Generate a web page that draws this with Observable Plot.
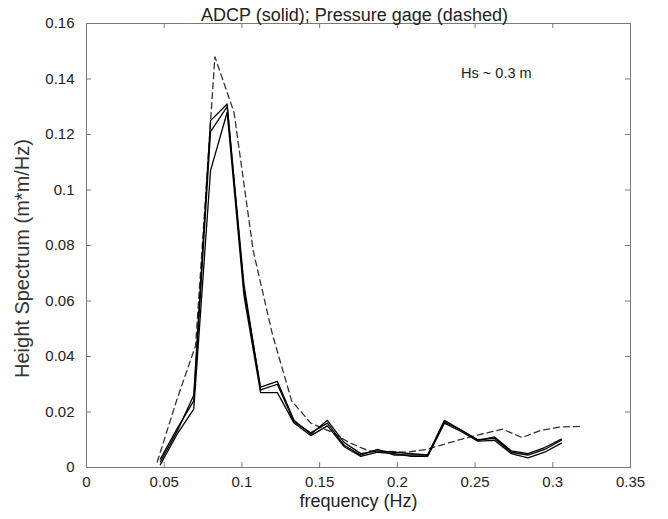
<!DOCTYPE html>
<html><head><meta charset="utf-8">
<script src="https://cdn.jsdelivr.net/npm/d3@7"></script>
<script src="https://cdn.jsdelivr.net/npm/@observablehq/plot@0.6"></script>
<style>body{margin:0;background:#fff}svg{display:block}</style>
</head><body><div id="chart"></div>
<script>
const title = "ADCP (solid); Pressure gage (dashed)";
const xLabel = "frequency (Hz)";
const yLabel = "Height Spectrum (m*m/Hz)";
const note = "Hs ~ 0.3 m";
const xTicks = [0, 0.05, 0.1, 0.15, 0.2, 0.25, 0.3, 0.35];
const yTicks = [0, 0.02, 0.04, 0.06, 0.08, 0.1, 0.12, 0.14, 0.16];

const adcpFreq = [0.0475, 0.0583, 0.069, 0.0798, 0.0905, 0.1013, 0.112, 0.1228, 0.1335, 0.1443, 0.155, 0.1658, 0.1765, 0.1873, 0.198, 0.2088, 0.2195, 0.2303, 0.241, 0.2518, 0.2625, 0.2733, 0.284, 0.2948, 0.3055];
const adcpA = [0.002, 0.013, 0.026, 0.125, 0.131, 0.064, 0.029, 0.031, 0.017, 0.012, 0.017, 0.009, 0.005, 0.006, 0.0055, 0.005, 0.0045, 0.017, 0.0135, 0.010, 0.0105, 0.0055, 0.0045, 0.0065, 0.0098];
const adcpB = [0.001, 0.012, 0.021, 0.107, 0.128, 0.062, 0.027, 0.027, 0.016, 0.0115, 0.015, 0.0075, 0.004, 0.0055, 0.005, 0.004, 0.004, 0.016, 0.013, 0.0095, 0.0098, 0.005, 0.0035, 0.0055, 0.0088];
const adcpC = [0.003, 0.014, 0.024, 0.121, 0.130, 0.066, 0.028, 0.030, 0.0165, 0.0125, 0.016, 0.008, 0.0045, 0.0065, 0.0045, 0.0045, 0.0045, 0.0165, 0.0135, 0.0098, 0.011, 0.006, 0.005, 0.0072, 0.0102];

const gageFreq = [0.0455, 0.0579, 0.0702, 0.0826, 0.0949, 0.1073, 0.1196, 0.132, 0.1443, 0.1567, 0.169, 0.1814, 0.1937, 0.2061, 0.2184, 0.2308, 0.2431, 0.2555, 0.2678, 0.2802, 0.2925, 0.3049, 0.3172];
const gageVals = [0.002, 0.024, 0.044, 0.148, 0.128, 0.078, 0.048, 0.024, 0.016, 0.013, 0.009, 0.006, 0.0058, 0.0055, 0.0065, 0.0085, 0.0105, 0.0122, 0.0138, 0.0108, 0.0134, 0.0146, 0.0148];

const W = 668, H = 519;
const mL = 86, mR = 38, mT = 23, mB = 52;
const innerW = W - mL - mR, innerH = H - mT - mB;
const tickLen = 5;
const font = "'Liberation Sans', Arial, Helvetica, sans-serif";
const axisColor = "#7a7a7a";
const textColor = "#222";

const adcp = [];
[["A", adcpA], ["B", adcpB], ["C", adcpC]].forEach(([s, vals]) =>
  adcpFreq.forEach((f, i) => adcp.push({f, v: vals[i], s})));
const gage = gageFreq.map((f, i) => ({f, v: gageVals[i]}));

const chart = Plot.plot({
  width: W, height: H,
  marginLeft: mL, marginRight: mR, marginTop: mT, marginBottom: mB,
  style: {fontFamily: font, background: "#fff", color: textColor},
  x: {domain: [0, 0.35]},
  y: {domain: [0, 0.16]},
  marks: [
    Plot.line(gage, {x: "f", y: "v", stroke: "#333", strokeWidth: 1.3, strokeDasharray: "6,4"}),
    Plot.line(adcp, {x: "f", y: "v", z: "s", stroke: "#000", strokeWidth: 1.3}),
    Plot.frame({stroke: axisColor}),
    Plot.ruleX(xTicks, {x: d => d, insetTop: innerH - tickLen, stroke: axisColor}),
    Plot.ruleX(xTicks, {x: d => d, insetBottom: innerH - tickLen, stroke: axisColor}),
    Plot.ruleY(yTicks, {y: d => d, insetRight: innerW - tickLen, stroke: axisColor}),
    Plot.ruleY(yTicks, {y: d => d, insetLeft: innerW - tickLen, stroke: axisColor}),
    Plot.axisX({ticks: xTicks, tickFormat: d => String(d), tickSize: 0, tickPadding: 9, label: null, fontSize: 15, fill: textColor}),
    Plot.axisY({ticks: yTicks, tickFormat: d => String(d), tickSize: 0, tickPadding: 12, label: null, fontSize: 15, fill: textColor}),
    Plot.text([title], {frameAnchor: "top", dx: -4, dy: -15, fontSize: 18, fill: textColor}),
    Plot.text([xLabel], {frameAnchor: "bottom", dy: 39, fontSize: 18, fill: textColor}),
    Plot.text([yLabel], {frameAnchor: "left", dx: -64, dy: 13, rotate: -90, textAnchor: "middle", fontSize: 20, fill: "#333"}),
    Plot.text([note], {x: () => 0.241, y: () => 0.142, textAnchor: "start", fontSize: 14.5, fill: textColor})
  ]
});
document.getElementById("chart").appendChild(chart);
</script>
</body></html>
